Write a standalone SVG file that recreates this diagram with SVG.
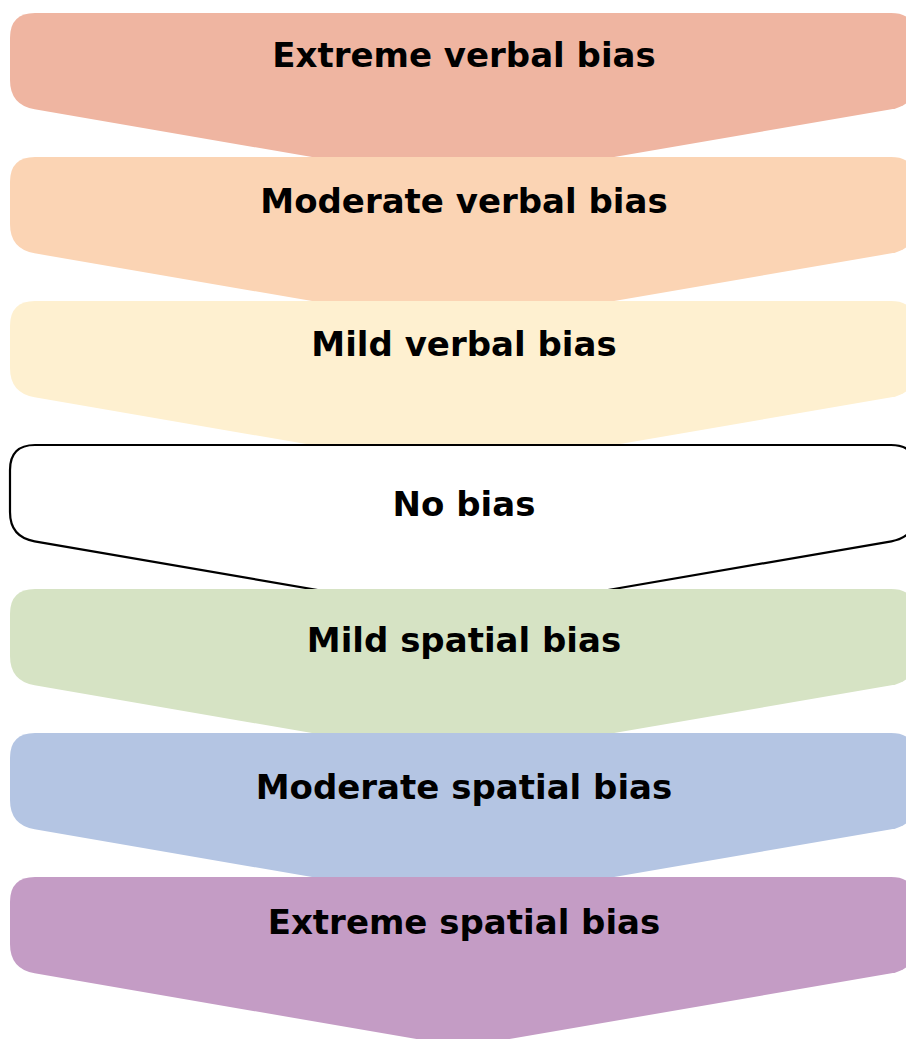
<svg xmlns="http://www.w3.org/2000/svg" width="906" height="1039" viewBox="0 0 906 1039">
<defs>
<style>
.lbl{font-family:"DejaVu Sans","Liberation Sans",sans-serif;font-weight:bold;font-size:34px;fill:#000;text-anchor:middle}
.none{fill:#fff;stroke:#000;stroke-width:2.2}
</style>
<path id="chev" d="M35 0H891Q916 0 916 25V67Q916 92 891.4 96.3L463 170L34.6 96.3Q10 92 10 67V25Q10 0 35 0Z"/>
</defs>
<rect width="906" height="1039" fill="#fff"/>
<g id="extreme-verbal">
<use href="#chev" y="13" fill="#EFB5A1"/>
<text class="lbl" x="464" y="67">Extreme verbal bias</text>
</g>
<g id="moderate-verbal">
<use href="#chev" y="157" fill="#FBD4B4"/>
<text class="lbl" x="464" y="213">Moderate verbal bias</text>
</g>
<g id="mild-verbal">
<use href="#chev" y="301" fill="#FEF0D0"/>
<text class="lbl" x="464" y="356">Mild verbal bias</text>
</g>
<g id="no-bias">
<use href="#chev" y="445" class="none"/>
<text class="lbl" x="464" y="516">No bias</text>
</g>
<g id="mild-spatial">
<use href="#chev" y="589" fill="#D6E3C4"/>
<text class="lbl" x="464" y="652">Mild spatial bias</text>
</g>
<g id="moderate-spatial">
<use href="#chev" y="733" fill="#B4C5E3"/>
<text class="lbl" x="464" y="799">Moderate spatial bias</text>
</g>
<g id="extreme-spatial">
<use href="#chev" y="877" fill="#C49CC5"/>
<text class="lbl" x="464" y="934">Extreme spatial bias</text>
</g>
<g id="connectors"></g>
</svg>
